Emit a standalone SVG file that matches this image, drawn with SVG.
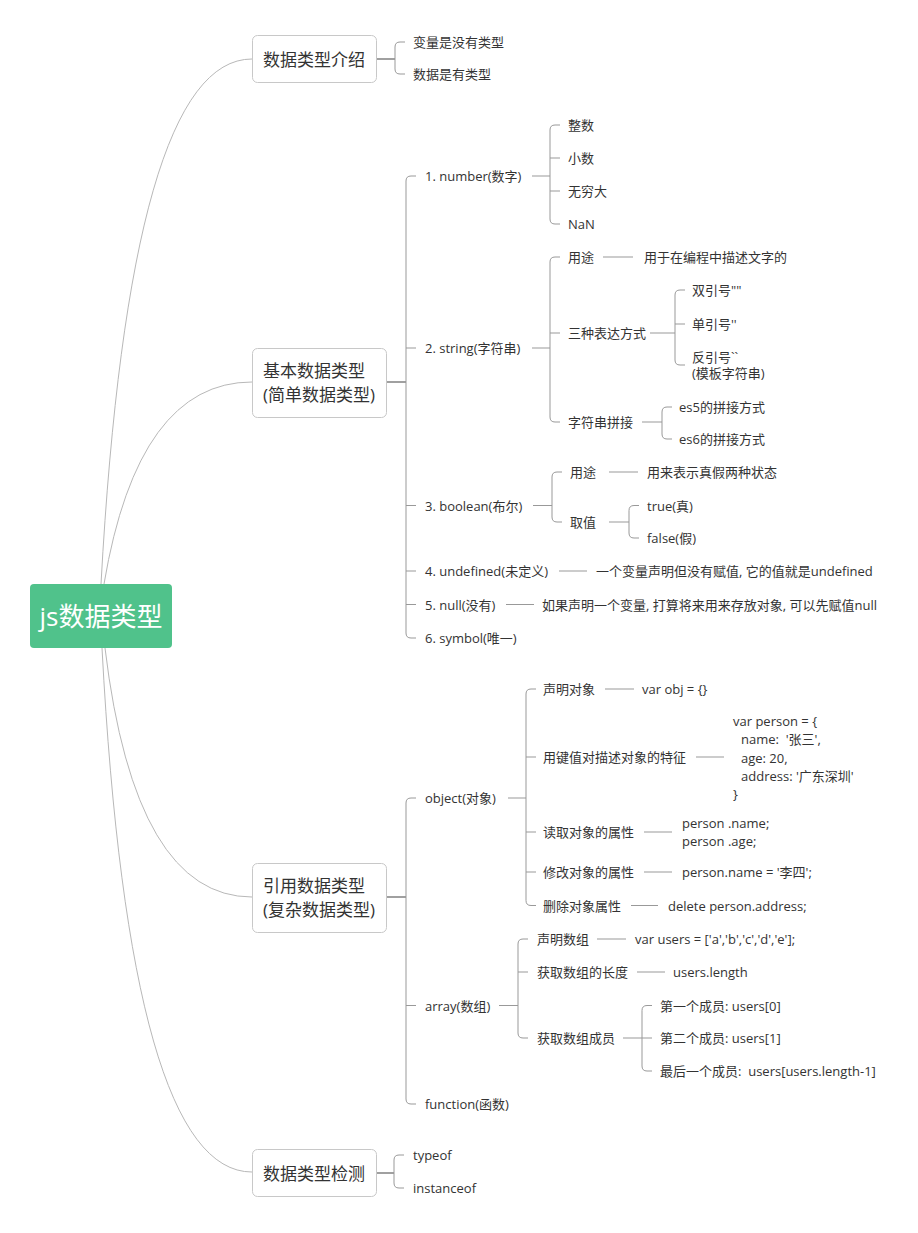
<svg xmlns="http://www.w3.org/2000/svg" width="918" height="1233" viewBox="0 0 918 1233">
<style>
text{font-family:"Open Sans","Noto Sans CJK SC",sans-serif;fill:#333;dominant-baseline:central;white-space:pre}
.s{font-size:13px}
.l1{font-size:17px}
.root{font-size:26px;fill:#fff}
.box{fill:#fff;stroke:#c8c8c8;stroke-width:1}
.curve{fill:none;stroke:#b8b8b8;stroke-width:1}
.main{fill:none;stroke:#a0a0a0;stroke-width:2}
.br{fill:none;stroke:#999;stroke-width:1}
</style>
<rect width="918" height="1233" fill="#fff"/>
<g id="connectors">
<path class="curve" d="M101,584 Q130,59 252,59"/>
<path class="curve" d="M104,584 Q138,382 252,382"/>
<path class="curve" d="M105,648 Q135,897 252,897"/>
<path class="curve" d="M102,648 Q130,1172 252,1172"/>
<path class="main" d="M376,59 H395"/>
<path class="main" d="M387,382 H406"/>
<path class="main" d="M387,897 H406"/>
<path class="main" d="M376,1173 H394"/>
<path class="br" d="M405,42 H400 Q395,42 395,47 V69 Q395,74 400,74 H405"/>
<path class="br" d="M416,176 H411 Q406,176 406,181 V633 Q406,638 411,638 H416 M406,348 H416 M406,505.5 H416 M406,571 H416 M406,604.5 H416"/>
<path class="br" d="M532,176 H550 M560,125 H555 Q550,125 550,130 V219 Q550,224 555,224 H560 M550,158 H560 M550,191 H560"/>
<path class="br" d="M532,348 H550 M560,257 H555 Q550,257 550,262 V417 Q550,422 555,422 H560 M550,333 H560"/>
<path class="br" d="M603,257 H633"/>
<path class="br" d="M650,333 H675 M685,290 H680 Q675,290 675,295 V360 Q675,365 680,365 H685 M675,324 H685"/>
<path class="br" d="M642,422 H662 M672,407 H667 Q662,407 662,412 V434 Q662,439 667,439 H672"/>
<path class="br" d="M533,505.5 H552 M562,472 H557 Q552,472 552,477 V517 Q552,522 557,522 H562"/>
<path class="br" d="M609,472 H638"/>
<path class="br" d="M609,522 H629 M639,505.5 H634 Q629,505.5 629,510.5 V533 Q629,538 634,538 H639"/>
<path class="br" d="M559,571 H587"/>
<path class="br" d="M506,604.5 H534"/>
<path class="br" d="M416,798 H411 Q406,798 406,803 V1099 Q406,1104 411,1104 H416 M406,1005.5 H416"/>
<path class="br" d="M508,798 H526 M536,689 H531 Q526,689 526,694 V900.5 Q526,905.5 531,905.5 H536 M526,757 H536 M526,832 H536 M526,872 H536"/>
<path class="br" d="M605,689 H634"/>
<path class="br" d="M696,757 H724"/>
<path class="br" d="M644,832 H672"/>
<path class="br" d="M644,872 H672"/>
<path class="br" d="M631,905.5 H658"/>
<path class="br" d="M499,1005.5 H518 M528,939 H523 Q518,939 518,944 V1033 Q518,1038 523,1038 H528 M518,972 H528"/>
<path class="br" d="M597,939 H626"/>
<path class="br" d="M637,972 H665"/>
<path class="br" d="M623,1038 H642 M652,1005.5 H647 Q642,1005.5 642,1010.5 V1066 Q642,1071 647,1071 H652 M642,1038 H652"/>
<path class="br" d="M404,1155 H399 Q394,1155 394,1160 V1183 Q394,1188 399,1188 H404"/>
</g>
<g id="root">
<rect x="30" y="584" width="142" height="64" rx="4" fill="#50c28b"/>
<text class="root" x="101" y="616" text-anchor="middle">js数据类型</text>
</g>
<g id="intro">
<rect class="box" x="252.5" y="35.5" width="124" height="47" rx="5"/>
<text class="l1" x="263" y="59">数据类型介绍</text>
</g>
<g id="intro-1"><text class="s" x="413" y="42">变量是没有类型</text></g>
<g id="intro-2"><text class="s" x="413" y="74">数据是有类型</text></g>
<g id="basic">
<rect class="box" x="252.5" y="348.5" width="134" height="69" rx="5"/>
<text class="l1" x="263" y="370">基本数据类型</text>
<text class="l1" x="263" y="394">(简单数据类型)</text>
</g>
<g id="number"><text class="s" x="425" y="176">1. number(数字)</text></g>
<g id="number-1"><text class="s" x="568" y="125">整数</text></g>
<g id="number-2"><text class="s" x="568" y="158">小数</text></g>
<g id="number-3"><text class="s" x="568" y="191">无穷大</text></g>
<g id="number-4"><text class="s" x="568" y="224">NaN</text></g>
<g id="string"><text class="s" x="425" y="348">2. string(字符串)</text></g>
<g id="string-use"><text class="s" x="568" y="257">用途</text></g>
<g id="string-use-d"><text class="s" x="644" y="257">用于在编程中描述文字的</text></g>
<g id="string-ways"><text class="s" x="568" y="333">三种表达方式</text></g>
<g id="string-w1"><text class="s" x="692" y="290">双引号""</text></g>
<g id="string-w2"><text class="s" x="692" y="324">单引号''</text></g>
<g id="string-w3"><text class="s" x="692" y="357">反引号``</text><text class="s" x="692" y="373">(模板字符串)</text></g>
<g id="string-concat"><text class="s" x="568" y="422">字符串拼接</text></g>
<g id="concat-1"><text class="s" x="679" y="407">es5的拼接方式</text></g>
<g id="concat-2"><text class="s" x="679" y="439">es6的拼接方式</text></g>
<g id="boolean"><text class="s" x="425" y="505.5">3. boolean(布尔)</text></g>
<g id="bool-use"><text class="s" x="570" y="472">用途</text></g>
<g id="bool-use-d"><text class="s" x="647" y="472">用来表示真假两种状态</text></g>
<g id="bool-val"><text class="s" x="570" y="522">取值</text></g>
<g id="bool-t"><text class="s" x="647" y="505.5">true(真)</text></g>
<g id="bool-f"><text class="s" x="647" y="538">false(假)</text></g>
<g id="undefined"><text class="s" x="425" y="571">4. undefined(未定义)</text></g>
<g id="undefined-d"><text class="s" x="596" y="571">一个变量声明但没有赋值, 它的值就是undefined</text></g>
<g id="null"><text class="s" x="425" y="604.5">5. null(没有)</text></g>
<g id="null-d"><text class="s" x="542" y="604.5">如果声明一个变量, 打算将来用来存放对象, 可以先赋值null</text></g>
<g id="symbol"><text class="s" x="425" y="638">6. symbol(唯一)</text></g>
<g id="ref">
<rect class="box" x="252.5" y="863.5" width="134" height="69" rx="5"/>
<text class="l1" x="263" y="885">引用数据类型</text>
<text class="l1" x="263" y="909">(复杂数据类型)</text>
</g>
<g id="object"><text class="s" x="425" y="798">object(对象)</text></g>
<g id="obj-1"><text class="s" x="543" y="689">声明对象</text></g>
<g id="obj-1d"><text class="s" x="642" y="689">var obj = {}</text></g>
<g id="obj-2"><text class="s" x="543" y="757">用键值对描述对象的特征</text></g>
<g id="obj-2d"><text class="s" x="733" y="721">var person = {</text><text class="s" x="741" y="739">name:  '张三',</text><text class="s" x="741" y="757.5">age: 20,</text><text class="s" x="741" y="776">address: '广东深圳'</text><text class="s" x="733" y="794">}</text></g>
<g id="obj-3"><text class="s" x="543" y="832">读取对象的属性</text></g>
<g id="obj-3d"><text class="s" x="682" y="823">person .name;</text><text class="s" x="682" y="841">person .age;</text></g>
<g id="obj-4"><text class="s" x="543" y="872">修改对象的属性</text></g>
<g id="obj-4d"><text class="s" x="682" y="872">person.name = '李四';</text></g>
<g id="obj-5"><text class="s" x="543" y="905.5">删除对象属性</text></g>
<g id="obj-5d"><text class="s" x="668" y="905.5">delete person.address;</text></g>
<g id="array"><text class="s" x="425" y="1005.5">array(数组)</text></g>
<g id="arr-1"><text class="s" x="537" y="939">声明数组</text></g>
<g id="arr-1d"><text class="s" x="635" y="939">var users = ['a','b','c','d','e'];</text></g>
<g id="arr-2"><text class="s" x="537" y="972">获取数组的长度</text></g>
<g id="arr-2d"><text class="s" x="673" y="972">users.length</text></g>
<g id="arr-3"><text class="s" x="537" y="1038">获取数组成员</text></g>
<g id="arr-3a"><text class="s" x="660" y="1005.5">第一个成员: users[0]</text></g>
<g id="arr-3b"><text class="s" x="660" y="1038">第二个成员: users[1]</text></g>
<g id="arr-3c"><text class="s" x="660" y="1071">最后一个成员:  users[users.length-1]</text></g>
<g id="function"><text class="s" x="425" y="1104">function(函数)</text></g>
<g id="detect">
<rect class="box" x="252.5" y="1149.5" width="124" height="47" rx="5"/>
<text class="l1" x="263" y="1173">数据类型检测</text>
</g>
<g id="typeof"><text class="s" x="413" y="1155">typeof</text></g>
<g id="instanceof"><text class="s" x="413" y="1188">instanceof</text></g>
</svg>
